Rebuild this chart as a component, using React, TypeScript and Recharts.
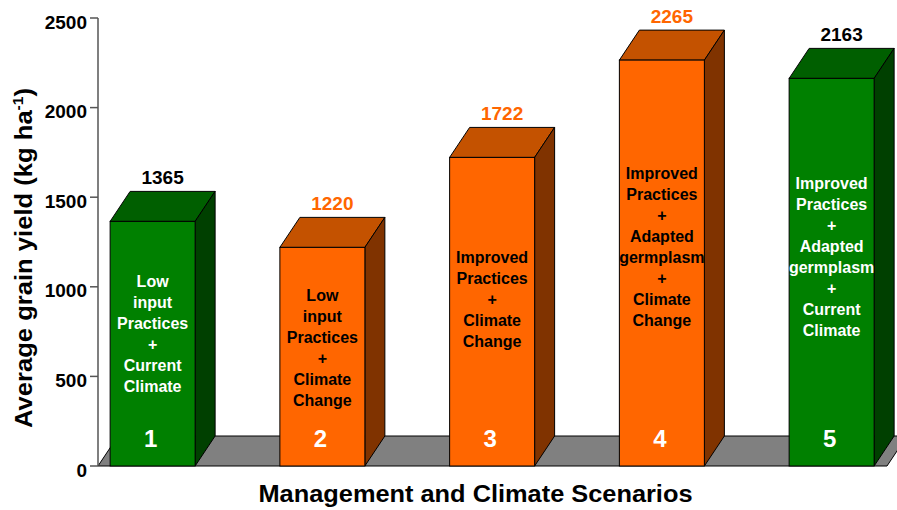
import React from 'react';
import { BarChart, Bar, XAxis, YAxis, ReferenceLine, LabelList } from 'recharts';

// Scenario numbers, yields (kg/ha) and the text printed on each bar
const scenarioIds = [1, 2, 3, 4, 5];
const grainYield = [1365, 1220, 1722, 2265, 2163];
const scenarioLines = [
  ['Low', 'input', 'Practices', '+', 'Current', 'Climate'],
  ['Low', 'input', 'Practices', '+', 'Climate', 'Change'],
  ['Improved', 'Practices', '+', 'Climate', 'Change'],
  ['Improved', 'Practices', '+', 'Adapted', 'germplasm', '+', 'Climate', 'Change'],
  ['Improved', 'Practices', '+', 'Adapted', 'germplasm', '+', 'Current', 'Climate'],
];
const climateKind = ['current', 'change', 'change', 'change', 'current'];
const yTicks = [0, 500, 1000, 1500, 2000, 2500];

const FONT = '"Liberation Sans", Arial, Helvetica, sans-serif';
const DX = 20; // depth offset to the right
const DY = 30; // depth offset upward

const palettes: Record<string, { front: string; top: string; side: string; text: string; value: string }> = {
  current: { front: '#008000', top: '#005f00', side: '#004000', text: '#ffffff', value: '#000000' },
  change: { front: '#ff6600', top: '#c45200', side: '#803300', text: '#000000', value: '#ff6600' },
};

const data = scenarioIds.map((id, i) => ({
  id,
  value: grainYield[i],
  lines: scenarioLines[i],
  kind: climateKind[i],
}));

const Box3D = (props: any) => {
  const { x, y, width, height, payload } = props;
  if (x == null || y == null) return null;
  const pal = palettes[payload.kind];
  const right = x + width;
  const bottom = y + height;
  const cx = x + width / 2;
  const lines: string[] = payload.lines;
  const lineGap = 21;
  const blockCenter = y + height * 0.46;
  return (
    <g>
      <polygon
        points={`${x},${y} ${x + DX},${y - DY} ${right + DX},${y - DY} ${right},${y}`}
        fill={pal.top}
        stroke="#000"
        strokeWidth={1}
      />
      <polygon
        points={`${right},${y} ${right + DX},${y - DY} ${right + DX},${bottom - DY} ${right},${bottom}`}
        fill={pal.side}
        stroke="#000"
        strokeWidth={1}
      />
      <rect x={x} y={y} width={width} height={height} fill={pal.front} stroke="#000" strokeWidth={1} />
      {lines.map((t, i) => (
        <text
          key={i}
          x={cx}
          y={blockCenter + (i - (lines.length - 1) / 2) * lineGap + 5.7}
          textAnchor="middle"
          fontFamily={FONT}
          fontWeight="bold"
          fontSize={16}
          fill={pal.text}
        >
          {t}
        </text>
      ))}
      <text
        x={cx - 2}
        y={bottom - 27.5 + 8.6}
        textAnchor="middle"
        fontFamily={FONT}
        fontWeight="bold"
        fontSize={24}
        fill="#ffffff"
      >
        {payload.id}
      </text>
    </g>
  );
};

const Floor = (props: any) => {
  const { x1, y1, x2 } = props;
  if (x1 == null) return null;
  return (
    <polygon
      points={`${x1},${y1} ${x1 + DX},${y1 - DY} ${x2 + DX},${y1 - DY} ${x2},${y1}`}
      fill="#808080"
      stroke="#000"
      strokeWidth={1}
    />
  );
};

const ValueLabel = (props: any) => {
  const { x, y, width, value, index } = props;
  const pal = palettes[climateKind[index]];
  return (
    <text
      x={x + width / 2 + DX / 2}
      y={y - DY - 7}
      textAnchor="middle"
      fontFamily={FONT}
      fontWeight="bold"
      fontSize={19}
      fill={pal.value}
    >
      {value}
    </text>
  );
};

const YTick = (props: any) => {
  const { x, y, payload } = props;
  return (
    <text x={x} y={y + 10.5} textAnchor="end" fontFamily={FONT} fontWeight="bold" fontSize={19} fill="#000">
      {payload.value}
    </text>
  );
};

const YTitle = (props: any) => {
  const vb = props.viewBox || {};
  const cx = 31.5;
  const cy = vb.y + vb.height / 2 + 16;
  return (
    <text
      x={cx}
      y={cy}
      transform={`rotate(-90 ${cx} ${cy})`}
      textAnchor="middle"
      fontFamily={FONT}
      fontWeight="bold"
      fontSize={23}
      fill="#000"
      textLength={340}
      lengthAdjust="spacingAndGlyphs"
    >
      Average grain yield (kg ha
      <tspan fontSize={14} dy={-9}>-1</tspan>
      <tspan dy={9}>)</tspan>
    </text>
  );
};

const XTitle = (props: any) => {
  const vb = props.viewBox || {};
  const cx = vb.x + vb.width / 2 - 17;
  return (
    <text
      x={cx}
      y={502}
      textAnchor="middle"
      fontFamily={FONT}
      fontWeight="bold"
      fontSize={23}
      fill="#000"
      textLength={434}
      lengthAdjust="spacingAndGlyphs"
    >
      Management and Climate Scenarios
    </text>
  );
};

export default function App() {
  return (
    <div style={{ position: 'absolute', left: 0, top: 0, width: 897, height: 510, background: '#fff' }}>
      <BarChart width={897} height={510} data={data} margin={{ top: 18, right: 10, bottom: 0, left: 0 }}>
        <XAxis
          dataKey="id"
          type="number"
          domain={[0.676, 5.324]}
          ticks={scenarioIds}
          tick={false}
          tickLine={false}
          axisLine={false}
          height={44}
          label={{ content: <XTitle /> }}
        />
        <YAxis
          domain={[0, 2500]}
          ticks={yTicks}
          width={98}
          tickSize={8}
          tickMargin={3}
          axisLine={{ stroke: '#555', strokeWidth: 1.5 }}
          tickLine={{ stroke: '#555', strokeWidth: 1.5 }}
          tick={<YTick />}
          label={{ content: <YTitle /> }}
        />
        <ReferenceLine y={0} zIndex={-10} shape={<Floor />} />
        <Bar dataKey="value" barSize={85} isAnimationActive={false} shape={<Box3D />}>
          <LabelList dataKey="value" content={<ValueLabel />} />
        </Bar>
      </BarChart>
    </div>
  );
}
